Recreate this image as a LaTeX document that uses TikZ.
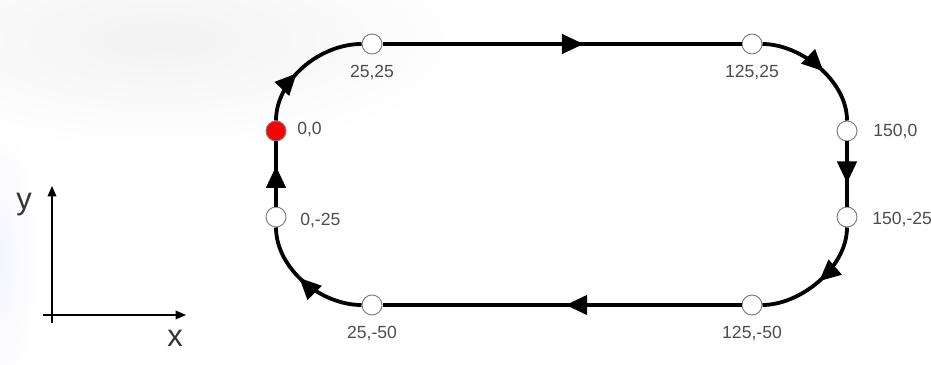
\documentclass[tikz,border=0pt]{standalone}
\usepackage{fontspec}
\setmainfont{Liberation Sans}
\usetikzlibrary{arrows.meta,decorations.markings}
\tikzset{arrowat/.style={postaction={decorate, decoration={markings, mark=at position #1 with {\arrow{Triangle[length=5.4mm,width=4.8mm]}}}}}}
\begin{document}
\begin{tikzpicture}[x=0.025cm,y=-0.025cm]
\tikzstyle{pt}=[circle, minimum size=5mm, inner sep=0pt, draw=black!50, line width=0.7pt, fill=white]
\tikzstyle{start}=[pt, fill=red]
\tikzstyle{lbl}=[text=black!70, font=\fontsize{12.5}{12.5}\selectfont, inner sep=0pt]
\tikzstyle{track}=[line width=2.7pt]
\tikzstyle{axis}=[line width=0.8pt, -{Triangle[length=2.6mm,width=2.2mm]}]
\useasboundingbox (0,0) rectangle (931,365);
% faint background
\begin{scope}
  \clip (0,0) rectangle (931,365);
  \shade[inner color=black!5, outer color=white] (160,40) ellipse (320 and 110);
  \shade[inner color=blue!4, outer color=white] (0,260) ellipse (40 and 140);
\end{scope}
  % points of the loop
  \node[start] (p00) at (276,131) {};
  \node[pt] (p2525) at (372,44) {};
  \node[pt] (p12525) at (752,44) {};
  \node[pt] (p1500) at (847,131) {};
  \node[pt] (p15025) at (847,217) {};
  \node[pt] (p12550) at (752,305) {};
  \node[pt] (p2550) at (372,305) {};
  \node[pt] (p025) at (276,217) {};
  % labels
  \node[lbl, anchor=west] (l00) at (297,129) {0,0};
  \node[lbl] (l2525) at (372,72) {25,25};
  \node[lbl] (l12525) at (752,72) {125,25};
  \node[lbl, anchor=west] (l1500) at (873,131) {150,0};
  \node[lbl, anchor=west] (l15025) at (872,219) {150,-25};
  \node[lbl] (l12550) at (752,333) {125,-50};
  \node[lbl] (l2550) at (372,333) {25,-50};
  \node[lbl, anchor=west] (l025) at (300,220) {0,-25};
  % the loop
  \draw[track, arrowat=0.42] (p00) .. controls (276,80) and (320,44) .. (p2525);
  \draw[track, arrowat=0.56] (p2525) -- (p12525);
  \draw[track, arrowat=0.55] (p12525) .. controls (800,44) and (847,80) .. (p1500);
  \draw[track, arrowat=0.64] (p1500) -- (p15025);
  \draw[track, arrowat=0.5] (p15025) .. controls (847,268) and (800,305) .. (p12550);
  \draw[track, arrowat=0.49] (p12550) -- (p2550);
  \draw[track, arrowat=0.55] (p2550) .. controls (320,305) and (276,268) .. (p025);
  \draw[track, arrowat=0.62] (p025) -- (p00);
  % axes
  \coordinate (origin) at (52,315);
  \coordinate (xstart) at (43,315);
  \coordinate (xend) at (186,315);
  \coordinate (ystart) at (52,323);
  \coordinate (yend) at (52,186);
  \draw[axis] (xstart) -- (xend);
  \draw[axis] (ystart) -- (yend);
  \node[font=\fontsize{22}{22}\selectfont, text=black!80] (ylbl) at (24,205) {y};
  \node[font=\fontsize{22}{22}\selectfont, text=black!80] (xlbl) at (175,338) {x};
\end{tikzpicture}
\end{document}
